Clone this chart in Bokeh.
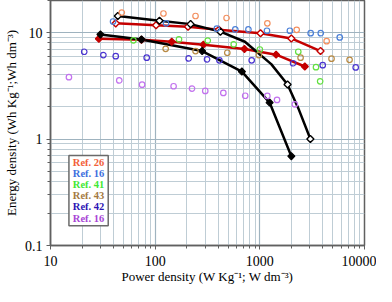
import numpy as np
from bokeh.plotting import figure
from bokeh.models import FixedTicker, CustomJSTickFormatter, BoxAnnotation, Label
from bokeh.embed import file_html
from bokeh.resources import INLINE

# ---------------- data ----------------
# black curve, filled diamonds
black_filled_power = [30, 74, 281, 674, 1240, 2000]
black_filled_energy = [9.6, 8.6, 6.7, 4.3, 2.2, 0.69]

# red curve, filled diamonds
red_filled_power = [29, 74, 144, 289, 713, 1430, 2690]
red_filled_energy = [8.75, 8.55, 8.2, 7.7, 7.0, 6.2, 4.8]

# black curve, open diamonds (markers) and its drawn path
black_open_power = [44, 110, 218, 420, 1840, 3040]
black_open_energy = [14.3, 12.9, 12.0, 10.2, 3.25, 1.0]
black_open_path_power = [44, 110, 218, 420, 720, 1285, 1840, 2365, 3040]
black_open_path_energy = [14.3, 12.9, 12.0, 10.2, 8.2, 5.05, 3.25, 1.88, 1.0]

# red curve, open diamonds
red_open_power = [42, 102, 206, 406, 1015, 2000, 3800]
red_open_energy = [12.2, 11.7, 11.35, 10.6, 9.86, 8.8, 6.7]

# literature points (open circles)
ref26_power = [48, 120, 243, 481, 1180, 2250, 4350]
ref26_energy = [15.4, 15.1, 14.3, 13.7, 12.2, 10.6, 8.3]

ref16a_power = [39.6, 127, 388, 583, 778, 1170, 1937, 3060, 3820, 5800]
ref16a_energy = [12.7, 12.2, 10.9, 10.7, 10.7, 10.4, 10.4, 9.86, 9.86, 9.0]

ref41_power = [62, 169, 318, 563, 1000, 2330, 3440, 3770]
ref41_energy = [8.45, 8.63, 8.4, 7.76, 6.93, 6.6, 4.73, 3.48]

ref43_power = [126, 243, 489, 979, 2450, 4840, 7200]
ref43_energy = [7.03, 6.7, 6.46, 6.15, 5.81, 5.69, 5.54]

ref42_power = [21, 32, 42, 83, 209, 313, 411, 836, 2080, 3990, 8240]
ref42_energy = [6.6, 6.15, 6.0, 5.81, 5.72, 5.6, 5.49, 5.49, 5.15, 4.94, 4.7]

ref16b_power = [15, 45.4, 75, 150, 225, 301, 448, 725, 1180, 1460, 2160]
ref16b_energy = [3.81, 3.55, 3.24, 3.13, 2.98, 2.83, 2.71, 2.55, 2.54, 2.33, 2.12]

legend_labels = ["Ref. 26", "Ref. 16", "Ref. 41", "Ref. 43", "Ref. 42", "Ref. 16"]
legend_colors = ["#f2603a", "#3e6fde", "#3fe834", "#a47a42", "#2c14b4", "#a844d6"]
marker_colors = ["#f39060", "#4a7fd8", "#62e040", "#b88a44", "#4a34d0", "#c272ee"]

x_major_ticks = [10, 100, 1000, 10000]
y_major_ticks = [0.1, 1, 10]

# ---------------- figure ----------------
p = figure(width=376, height=286, x_axis_type="log", y_axis_type="log",
           x_range=(10, 10000), y_range=(0.1, 20),
           output_backend="svg", toolbar_location=None,
           min_border_left=43, min_border_right=12, min_border_top=0, min_border_bottom=30)

p.background_fill_color = "white"
p.border_fill_color = "white"
p.outline_line_color = "#606060"
p.outline_line_width = 1.5

x_minor = [m * 10 ** k for k in range(1, 4) for m in range(2, 10)]
y_minor = [m * 10 ** k for k in range(-1, 2) for m in range(2, 10) if m * 10 ** k <= 20]
p.xaxis.ticker = FixedTicker(ticks=x_major_ticks, minor_ticks=x_minor)
p.yaxis.ticker = FixedTicker(ticks=y_major_ticks, minor_ticks=y_minor)
fmt = CustomJSTickFormatter(code="return String(tick);")
p.xaxis.formatter = fmt
p.yaxis.formatter = fmt

for g in (p.xgrid, p.ygrid):
    g.grid_line_color = "#9fb3bf"
    g.grid_line_width = 1.2
    g.minor_grid_line_color = "#bfcdd5"
    g.minor_grid_line_width = 1.0

for ax in (p.xaxis, p.yaxis):
    ax.axis_line_color = "#606060"
    ax.axis_line_width = 1.5
    ax.major_tick_line_color = "#606060"
    ax.minor_tick_line_color = "#606060"
    ax.major_tick_out = 4
    ax.major_tick_in = 0
    ax.minor_tick_out = 3
    ax.minor_tick_in = 0
    ax.major_label_text_font = "Liberation Serif"
    ax.major_label_text_font_size = "14px"
    ax.major_label_text_color = "black"
    ax.axis_label_text_font = "Liberation Serif"
    ax.axis_label_text_font_size = "13px"
    ax.axis_label_text_font_style = "normal"
    ax.axis_label_text_color = "black"

p.xaxis.major_label_standoff = 6
p.xaxis.axis_label_standoff = 0
p.yaxis.major_label_standoff = 4
p.yaxis.axis_label_standoff = 3

p.xaxis.axis_label = "Power density (W Kg\u207b\u00b9; W dm\u207b\u00b3)"
p.yaxis.axis_label = "Energy density (Wh Kg\u207b\u00b9;Wh dm\u207b\u00b3)"

# ---------------- curves ----------------
red = "#c40000"
p.line(red_open_power, red_open_energy, line_color=red, line_width=2.5)
p.line(red_filled_power, red_filled_energy, line_color=red, line_width=2.5)
p.line(black_open_path_power, black_open_path_energy, line_color="black", line_width=2.5)
p.line(black_filled_power, black_filled_energy, line_color="black", line_width=2.5)

dsize = 5.0
p.scatter(red_open_power, red_open_energy, marker="square", angle=np.pi / 4, size=dsize,
          fill_color="white", line_color=red, line_width=1.4)
p.scatter(red_filled_power, red_filled_energy, marker="square", angle=np.pi / 4, size=dsize,
          fill_color=red, line_color=red, line_width=1.2)
p.scatter(black_open_power, black_open_energy, marker="square", angle=np.pi / 4, size=dsize,
          fill_color="white", line_color="black", line_width=1.4)
p.scatter(black_filled_power, black_filled_energy, marker="square", angle=np.pi / 4, size=dsize,
          fill_color="black", line_color="black", line_width=1.2)

# ---------------- literature points ----------------
refs = [(ref26_power, ref26_energy), (ref16a_power, ref16a_energy), (ref41_power, ref41_energy),
        (ref43_power, ref43_energy), (ref42_power, ref42_energy), (ref16b_power, ref16b_energy)]
for (px, py), c in zip(refs, marker_colors):
    p.scatter(px, py, marker="circle", size=5.5, fill_color=None, line_color=c, line_width=1.2)

# ---------------- legend (text box) ----------------
box_left, box_right, box_bottom, box_top = 15.0, 35.6, 0.153, 0.70
p.add_layout(BoxAnnotation(left=box_left, right=box_right, bottom=box_bottom, top=box_top,
                           fill_color="white", fill_alpha=1.0, line_color="#6a6a6a",
                           line_width=1.5, line_alpha=1.0))
x_center = 10 ** ((np.log10(box_left) + np.log10(box_right)) / 2)
y_first, y_last = np.log10(0.60), np.log10(0.181)
n = len(legend_labels)
for i, (lab, col) in enumerate(zip(legend_labels, legend_colors)):
    yy = 10 ** (y_first + (y_last - y_first) * i / (n - 1))
    p.add_layout(Label(x=x_center, y=yy, text=lab, text_align="center", text_baseline="middle",
                       text_font="Liberation Serif", text_font_style="bold",
                       text_font_size="10.5px", text_color=col))

open("out.html", "w").write(file_html(p, INLINE))
